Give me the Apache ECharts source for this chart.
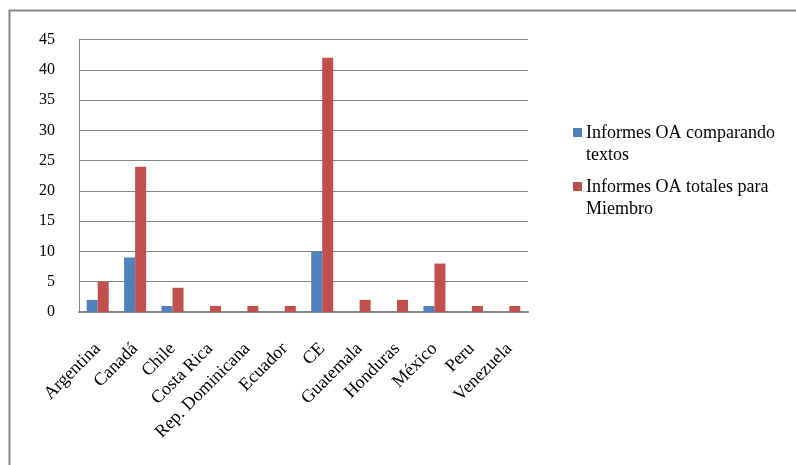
<!DOCTYPE html>
<html>
<head>
<meta charset="utf-8">
<script src="https://cdn.jsdelivr.net/npm/echarts@6/dist/echarts.min.js"></script>
<style>
  html, body { margin: 0; padding: 0; background: #fff; }
  #chart { width: 796px; height: 465px; }
</style>
</head>
<body>
<div id="chart"></div>
<script>
// Countries / members on the category axis
const categories = ['Argentina', 'Canadá', 'Chile', 'Costa Rica', 'Rep. Dominicana', 'Ecuador',
  'CE', 'Guatemala', 'Honduras', 'México', 'Peru', 'Venezuela'];

// Reports comparing texts
const comparandoTextos = [2, 9, 1, 0, 0, 0, 10, 0, 0, 1, 0, 0];
// Total reports per member
const totalesMiembro = [5, 24, 4, 1, 1, 1, 42, 2, 2, 8, 1, 1];

const seriesNames = ['Informes OA comparando textos', 'Informes OA totales para Miembro'];
// Legend text, wrapped as displayed
const legendLines = [['Informes OA comparando', 'textos'], ['Informes OA totales para', 'Miembro']];
const seriesColors = ['#4F81BD', '#C0504D'];

// Value axis ticks
const yTicks = [0, 5, 10, 15, 20, 25, 30, 35, 40, 45];

const serif = '"Liberation Serif", "DejaVu Serif", serif';
const gridColor = '#868686';

const chart = echarts.init(document.getElementById('chart'));

const legendGraphics = [];
legendLines.forEach((lines, i) => {
  const top = 122 + i * 54;
  legendGraphics.push({
    type: 'rect',
    shape: { x: 573, y: top + 6, width: 9, height: 9 },
    style: { fill: seriesColors[i] }
  });
  legendGraphics.push({
    type: 'text',
    x: 586, y: top,
    style: {
      text: lines.join('\n'),
      font: '18px ' + serif,
      fill: '#000',
      lineHeight: 22,
      verticalAlign: 'top'
    }
  });
});

chart.setOption({
  animation: false,
  backgroundColor: '#fff',
  grid: { left: 79, right: 268, top: 39.5, bottom: 153, containLabel: false },
  xAxis: {
    type: 'category',
    data: categories,
    axisLine: { show: true, lineStyle: { color: gridColor, width: 2 } },
    axisTick: { show: false },
    axisLabel: {
      interval: 0,
      rotate: 45,
      margin: 34,
      color: '#000',
      fontFamily: serif,
      fontSize: 18
    }
  },
  yAxis: {
    type: 'value',
    min: yTicks[0],
    max: yTicks[yTicks.length - 1],
    interval: yTicks[1] - yTicks[0],
    axisLine: { show: true, lineStyle: { color: gridColor, width: 1 } },
    axisTick: { show: false },
    axisLabel: { color: '#000', fontFamily: serif, fontSize: 16, margin: 24 },
    splitLine: { show: true, lineStyle: { color: gridColor, width: 1 } }
  },
  series: [
    {
      name: seriesNames[0],
      type: 'bar',
      data: comparandoTextos,
      barWidth: 11,
      barGap: '0%',
      itemStyle: { color: seriesColors[0] }
    },
    {
      name: seriesNames[1],
      type: 'bar',
      data: totalesMiembro,
      barWidth: 11,
      barGap: '0%',
      itemStyle: { color: seriesColors[1] }
    }
  ],
  graphic: [
    {
      type: 'rect',
      shape: { x: 9.5, y: 10.5, width: 900, height: 600 },
      style: { fill: null, stroke: gridColor, lineWidth: 2 },
      silent: true
    }
  ].concat(legendGraphics)
});
</script>
</body>
</html>
